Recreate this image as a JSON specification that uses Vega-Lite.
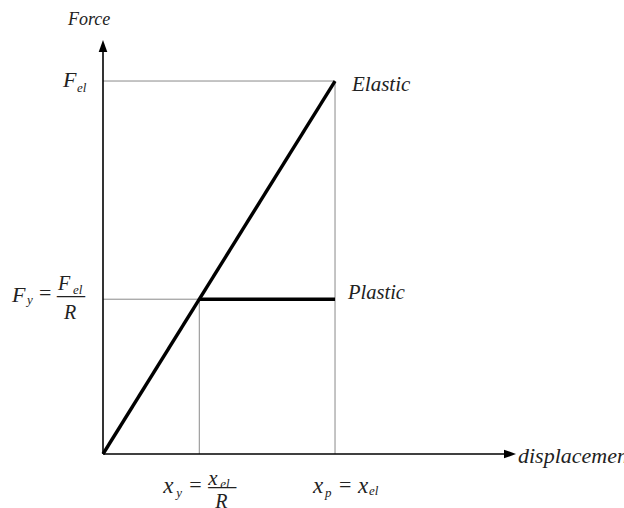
{
  "$schema": "https://vega.github.io/schema/vega-lite/v6.json",
  "width": 413,
  "height": 414,
  "autosize": "none",
  "padding": {"left": 103, "top": 40, "right": 108, "bottom": 54},
  "background": "white",
  "config": {"view": {"stroke": null}},
  "datasets": {
    "axes": [
      {"x": 0, "x2": 1.74, "y": 0, "y2": 0},
      {"x": 0, "x2": 0, "y": 0, "y2": 1.08}
    ],
    "arrows": [
      {"dir": "right", "x": 1.78, "y": 0},
      {"dir": "up", "x": 0, "y": 1.11}
    ],
    "guides": [
      {"x": 0, "x2": 1, "y": 1, "y2": 1},
      {"x": 1, "x2": 1, "y": 0, "y2": 1},
      {"x": 0, "x2": 0.415, "y": 0.415, "y2": 0.415},
      {"x": 0.415, "x2": 0.415, "y": 0, "y2": 0.415}
    ],
    "lines": [
      {"series": "Elastic", "x": 0, "y": 0},
      {"series": "Elastic", "x": 1, "y": 1},
      {"series": "Plastic", "x": 0.415, "y": 0.415},
      {"series": "Plastic", "x": 1, "y": 0.415}
    ],
    "labels": [
      {"id": "force", "x": 0, "y": 1.11, "text": "Force"},
      {"id": "elastic", "x": 1, "y": 1, "text": "Elastic"},
      {"id": "plastic", "x": 1, "y": 0.415, "text": "Plastic"},
      {"id": "disp", "x": 1.78, "y": 0, "text": "displacement"},
      {"id": "fel_F", "x": 0, "y": 1, "text": "F"},
      {"id": "fel_sub", "x": 0, "y": 1, "text": "el"},
      {"id": "fy_F", "x": 0, "y": 0.415, "text": "F"},
      {"id": "fy_sub", "x": 0, "y": 0.415, "text": "y"},
      {"id": "fy_eq", "x": 0, "y": 0.415, "text": "="},
      {"id": "fy_numF", "x": 0, "y": 0.415, "text": "F"},
      {"id": "fy_numsub", "x": 0, "y": 0.415, "text": "el"},
      {"id": "fy_bar", "x": 0, "y": 0.415, "text": "—"},
      {"id": "fy_R", "x": 0, "y": 0.415, "text": "R"},
      {"id": "xy_x", "x": 0.415, "y": 0, "text": "x"},
      {"id": "xy_sub", "x": 0.415, "y": 0, "text": "y"},
      {"id": "xy_eq", "x": 0.415, "y": 0, "text": "="},
      {"id": "xy_numx", "x": 0.415, "y": 0, "text": "x"},
      {"id": "xy_numsub", "x": 0.415, "y": 0, "text": "el"},
      {"id": "xy_bar", "x": 0.415, "y": 0, "text": "—"},
      {"id": "xy_R", "x": 0.415, "y": 0, "text": "R"},
      {"id": "xp_x", "x": 1, "y": 0, "text": "x"},
      {"id": "xp_sub", "x": 1, "y": 0, "text": "p"},
      {"id": "xp_eq", "x": 1, "y": 0, "text": "="},
      {"id": "xp_x2", "x": 1, "y": 0, "text": "x"},
      {"id": "xp_sub2", "x": 1, "y": 0, "text": "el"}
    ]
  },
  "encoding": {
    "x": {"field": "x", "type": "quantitative", "scale": {"domain": [0, 1.78], "nice": false, "zero": false}, "axis": null},
    "y": {"field": "y", "type": "quantitative", "scale": {"domain": [0, 1.11], "nice": false, "zero": false}, "axis": null}
  },
  "layer": [
    {
      "data": {"name": "guides"},
      "mark": {"type": "rule", "color": "#8a8a8a", "strokeWidth": 1},
      "encoding": {"x2": {"field": "x2"}, "y2": {"field": "y2"}}
    },
    {
      "data": {"name": "axes"},
      "mark": {"type": "rule", "color": "#000000", "strokeWidth": 1.6},
      "encoding": {"x2": {"field": "x2"}, "y2": {"field": "y2"}}
    },
    {
      "data": {"name": "arrows"},
      "transform": [{"filter": "datum.dir === 'up'"}],
      "mark": {"type": "point", "shape": "M0,0L-0.36,1L0.36,1Z", "size": 576, "filled": true, "color": "#000000", "opacity": 1}
    },
    {
      "data": {"name": "arrows"},
      "transform": [{"filter": "datum.dir === 'right'"}],
      "mark": {"type": "point", "shape": "M0,0L-1,-0.36L-1,0.36Z", "size": 576, "filled": true, "color": "#000000", "opacity": 1}
    },
    {
      "data": {"name": "lines"},
      "mark": {"type": "line", "color": "#000000", "strokeWidth": 3.4, "strokeCap": "butt"},
      "encoding": {"detail": {"field": "series"}}
    },
    {"data": {"name": "labels"}, "transform": [{"filter": "datum.id === 'force'"}], "mark": {"type": "text", "font": "Liberation Serif", "fontStyle": "italic", "fontSize": 18, "align": "left", "baseline": "alphabetic", "dx": -35, "dy": -15, "color": "#222222"}, "encoding": {"text": {"field": "text"}}},
    {"data": {"name": "labels"}, "transform": [{"filter": "datum.id === 'elastic'"}], "mark": {"type": "text", "font": "Liberation Serif", "fontStyle": "italic", "fontSize": 21, "align": "left", "baseline": "alphabetic", "dx": 17, "dy": 10, "color": "#222222"}, "encoding": {"text": {"field": "text"}}},
    {"data": {"name": "labels"}, "transform": [{"filter": "datum.id === 'plastic'"}], "mark": {"type": "text", "font": "Liberation Serif", "fontStyle": "italic", "fontSize": 20.5, "align": "left", "baseline": "alphabetic", "dx": 13, "dy": 0, "color": "#222222"}, "encoding": {"text": {"field": "text"}}},
    {"data": {"name": "labels"}, "transform": [{"filter": "datum.id === 'disp'"}], "mark": {"type": "text", "font": "Liberation Serif", "fontStyle": "italic", "fontSize": 22, "align": "left", "baseline": "alphabetic", "dx": 2, "dy": 9, "color": "#222222"}, "encoding": {"text": {"field": "text"}}},
    {"data": {"name": "labels"}, "transform": [{"filter": "datum.id === 'fel_F'"}], "mark": {"type": "text", "font": "Liberation Serif", "fontStyle": "italic", "fontSize": 22, "align": "left", "baseline": "alphabetic", "dx": -40, "dy": 6, "color": "#222222"}, "encoding": {"text": {"field": "text"}}},
    {"data": {"name": "labels"}, "transform": [{"filter": "datum.id === 'fel_sub'"}], "mark": {"type": "text", "font": "Liberation Serif", "fontStyle": "italic", "fontSize": 13, "align": "left", "baseline": "alphabetic", "dx": -26, "dy": 11, "color": "#222222"}, "encoding": {"text": {"field": "text"}}},
    {"data": {"name": "labels"}, "transform": [{"filter": "datum.id === 'fy_F'"}], "mark": {"type": "text", "font": "Liberation Serif", "fontStyle": "italic", "fontSize": 22, "align": "left", "baseline": "alphabetic", "dx": -91, "dy": 3, "color": "#222222"}, "encoding": {"text": {"field": "text"}}},
    {"data": {"name": "labels"}, "transform": [{"filter": "datum.id === 'fy_sub'"}], "mark": {"type": "text", "font": "Liberation Serif", "fontStyle": "italic", "fontSize": 13, "align": "left", "baseline": "alphabetic", "dx": -76, "dy": 5, "color": "#222222"}, "encoding": {"text": {"field": "text"}}},
    {"data": {"name": "labels"}, "transform": [{"filter": "datum.id === 'fy_eq'"}], "mark": {"type": "text", "font": "Liberation Serif", "fontSize": 22, "align": "left", "baseline": "alphabetic", "dx": -64, "dy": 1, "color": "#222222"}, "encoding": {"text": {"field": "text"}}},
    {"data": {"name": "labels"}, "transform": [{"filter": "datum.id === 'fy_numF'"}], "mark": {"type": "text", "font": "Liberation Serif", "fontStyle": "italic", "fontSize": 20, "align": "left", "baseline": "alphabetic", "dx": -45, "dy": -9, "color": "#222222"}, "encoding": {"text": {"field": "text"}}},
    {"data": {"name": "labels"}, "transform": [{"filter": "datum.id === 'fy_numsub'"}], "mark": {"type": "text", "font": "Liberation Serif", "fontStyle": "italic", "fontSize": 13, "align": "left", "baseline": "alphabetic", "dx": -30, "dy": -5, "color": "#222222"}, "encoding": {"text": {"field": "text"}}},
    {"data": {"name": "labels"}, "transform": [{"filter": "datum.id === 'fy_bar'"}], "mark": {"type": "text", "font": "Liberation Serif", "fontSize": 28, "align": "left", "baseline": "alphabetic", "dx": -46, "dy": 4, "color": "#222222"}, "encoding": {"text": {"field": "text"}}},
    {"data": {"name": "labels"}, "transform": [{"filter": "datum.id === 'fy_R'"}], "mark": {"type": "text", "font": "Liberation Serif", "fontStyle": "italic", "fontSize": 20, "align": "left", "baseline": "alphabetic", "dx": -39, "dy": 20, "color": "#222222"}, "encoding": {"text": {"field": "text"}}},
    {"data": {"name": "labels"}, "transform": [{"filter": "datum.id === 'xy_x'"}], "mark": {"type": "text", "font": "Liberation Serif", "fontStyle": "italic", "fontSize": 23, "align": "left", "baseline": "alphabetic", "dx": -36, "dy": 39, "color": "#222222"}, "encoding": {"text": {"field": "text"}}},
    {"data": {"name": "labels"}, "transform": [{"filter": "datum.id === 'xy_sub'"}], "mark": {"type": "text", "font": "Liberation Serif", "fontStyle": "italic", "fontSize": 13, "align": "left", "baseline": "alphabetic", "dx": -23, "dy": 43, "color": "#222222"}, "encoding": {"text": {"field": "text"}}},
    {"data": {"name": "labels"}, "transform": [{"filter": "datum.id === 'xy_eq'"}], "mark": {"type": "text", "font": "Liberation Serif", "fontSize": 22, "align": "left", "baseline": "alphabetic", "dx": -10, "dy": 38, "color": "#222222"}, "encoding": {"text": {"field": "text"}}},
    {"data": {"name": "labels"}, "transform": [{"filter": "datum.id === 'xy_numx'"}], "mark": {"type": "text", "font": "Liberation Serif", "fontStyle": "italic", "fontSize": 21, "align": "left", "baseline": "alphabetic", "dx": 9, "dy": 31, "color": "#222222"}, "encoding": {"text": {"field": "text"}}},
    {"data": {"name": "labels"}, "transform": [{"filter": "datum.id === 'xy_numsub'"}], "mark": {"type": "text", "font": "Liberation Serif", "fontStyle": "italic", "fontSize": 13, "align": "left", "baseline": "alphabetic", "dx": 21, "dy": 34, "color": "#222222"}, "encoding": {"text": {"field": "text"}}},
    {"data": {"name": "labels"}, "transform": [{"filter": "datum.id === 'xy_bar'"}], "mark": {"type": "text", "font": "Liberation Serif", "fontSize": 28, "align": "left", "baseline": "alphabetic", "dx": 9, "dy": 40, "color": "#222222"}, "encoding": {"text": {"field": "text"}}},
    {"data": {"name": "labels"}, "transform": [{"filter": "datum.id === 'xy_R'"}], "mark": {"type": "text", "font": "Liberation Serif", "fontStyle": "italic", "fontSize": 20, "align": "left", "baseline": "alphabetic", "dx": 16, "dy": 54, "color": "#222222"}, "encoding": {"text": {"field": "text"}}},
    {"data": {"name": "labels"}, "transform": [{"filter": "datum.id === 'xp_x'"}], "mark": {"type": "text", "font": "Liberation Serif", "fontStyle": "italic", "fontSize": 23, "align": "left", "baseline": "alphabetic", "dx": -22, "dy": 39, "color": "#222222"}, "encoding": {"text": {"field": "text"}}},
    {"data": {"name": "labels"}, "transform": [{"filter": "datum.id === 'xp_sub'"}], "mark": {"type": "text", "font": "Liberation Serif", "fontStyle": "italic", "fontSize": 13, "align": "left", "baseline": "alphabetic", "dx": -10, "dy": 43, "color": "#222222"}, "encoding": {"text": {"field": "text"}}},
    {"data": {"name": "labels"}, "transform": [{"filter": "datum.id === 'xp_eq'"}], "mark": {"type": "text", "font": "Liberation Serif", "fontSize": 22, "align": "left", "baseline": "alphabetic", "dx": 4, "dy": 38, "color": "#222222"}, "encoding": {"text": {"field": "text"}}},
    {"data": {"name": "labels"}, "transform": [{"filter": "datum.id === 'xp_x2'"}], "mark": {"type": "text", "font": "Liberation Serif", "fontStyle": "italic", "fontSize": 23, "align": "left", "baseline": "alphabetic", "dx": 23, "dy": 39, "color": "#222222"}, "encoding": {"text": {"field": "text"}}},
    {"data": {"name": "labels"}, "transform": [{"filter": "datum.id === 'xp_sub2'"}], "mark": {"type": "text", "font": "Liberation Serif", "fontStyle": "italic", "fontSize": 13, "align": "left", "baseline": "alphabetic", "dx": 34, "dy": 41, "color": "#222222"}, "encoding": {"text": {"field": "text"}}}
  ]
}
